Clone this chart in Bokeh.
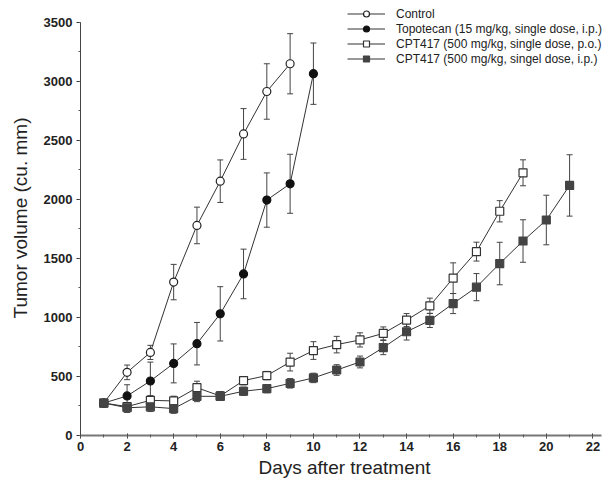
from bokeh.plotting import figure
from bokeh.models import (Range1d, FixedTicker, Whisker, ColumnDataSource, Legend,
                          LegendItem, TeeHead)
from bokeh.embed import file_html
from bokeh.resources import INLINE

# ---- data ----
control_days = [1, 2, 3, 4, 5, 6, 7, 8, 9]
control_vol = [275, 535, 704, 1300, 1780, 2155, 2555, 2915, 3150]
control_err = [0, 62, 60, 150, 155, 180, 215, 235, 255]

topo_days = [1, 2, 3, 4, 5, 6, 7, 8, 9, 10]
topo_vol = [275, 335, 462, 611, 778, 1031, 1369, 1995, 2133, 3066]
topo_err = [0, 95, 160, 165, 180, 230, 210, 230, 250, 260]

po_days = list(range(1, 20))
po_vol = [275, 245, 298, 293, 405, 335, 465, 508, 622, 720, 770, 810, 865, 978,
          1099, 1333, 1558, 1900, 2226]
po_err = [0, 30, 40, 40, 55, 35, 35, 35, 75, 75, 70, 60, 55, 55, 65, 130, 80, 90, 110]

ip_days = list(range(1, 22))
ip_vol = [275, 235, 243, 228, 332, 332, 375, 397, 442, 488, 555, 623, 745, 879,
          975, 1118, 1257, 1457, 1648, 1826, 2119]
ip_err = [0, 40, 40, 40, 45, 35, 35, 35, 40, 40, 45, 50, 60, 70, 60, 85, 115, 180,
          180, 210, 260]

labels = ["Control",
          "Topotecan (15 mg/kg, single dose, i.p.)",
          "CPT417 (500 mg/kg, single dose, p.o.)",
          "CPT417 (500 mg/kg, singel dose, i.p.)"]

x_ticks = [0, 2, 4, 6, 8, 10, 12, 14, 16, 18, 20, 22]
x_minor = list(range(0, 23))
y_ticks = [0, 500, 1000, 1500, 2000, 2500, 3000, 3500]
y_minor = [250 * i for i in range(15)]

FONT = "Liberation Sans"
DARK = "#333333"

# frame reaches the top and right edges of the canvas so the legend is not
# clipped; the axis lines themselves stop at 3500 and ~22.3 via bounds
p = figure(width=608, height=480, output_backend="svg", toolbar_location=None,
           x_range=Range1d(0, 22.67), y_range=Range1d(0, 3686),
           min_border_left=80, min_border_right=0, min_border_top=0,
           min_border_bottom=45)
p.outline_line_color = None
p.grid.grid_line_color = None
p.background_fill_color = "white"

series = [
    (control_days, control_vol, control_err, "circle", "white", "#222222"),
    (topo_days, topo_vol, topo_err, "circle", "#111111", "#111111"),
    (po_days, po_vol, po_err, "square", "white", "#333333"),
    (ip_days, ip_vol, ip_err, "square", "#444444", "#444444"),
]

items = []
for (d, v, e, marker, fill, outline), lab in zip(series, labels):
    src = ColumnDataSource(dict(
        x=[a for a, b in zip(d, e) if b > 0],
        upper=[c + b for c, b in zip(v, e) if b > 0],
        lower=[c - b for c, b in zip(v, e) if b > 0]))
    w = Whisker(base="x", upper="upper", lower="lower", source=src,
                dimension="height", line_color="#444444", line_width=1,
                level="underlay",
                upper_head=TeeHead(size=6, line_color="#444444", line_width=1),
                lower_head=TeeHead(size=6, line_color="#444444", line_width=1))
    p.add_layout(w)
    lr = p.line(d, v, line_color=DARK, line_width=1)
    sr = p.scatter(d, v, marker=marker, size=8, fill_color=fill,
                   line_color=outline, line_width=1.2)
    items.append(LegendItem(label=lab, renderers=[lr, sr]))

legend = Legend(items=items, location=(267, 369), padding=0, margin=0,
                spacing=-3, glyph_width=38, glyph_height=15, label_height=15,
                label_standoff=11, label_text_font=FONT,
                label_text_font_size="12px", label_text_color="#222222",
                background_fill_alpha=0, border_line_color=None)
p.add_layout(legend, "center")

# axes
p.xaxis.ticker = FixedTicker(ticks=x_ticks, minor_ticks=x_minor)
p.yaxis.ticker = FixedTicker(ticks=y_ticks, minor_ticks=y_minor)
p.yaxis.bounds = (0, 3500)
p.xaxis.bounds = (0, 22.35)
for ax in (p.xaxis, p.yaxis):
    ax.major_label_text_font = FONT
    ax.major_label_text_font_style = "bold"
    ax.major_label_text_font_size = "13px"
    ax.major_label_text_color = "#222222"
    ax.axis_label_text_font = FONT
    ax.axis_label_text_font_style = "normal"
    ax.axis_label_text_font_size = "19px"
    ax.axis_label_text_color = "#222222"
    ax.major_tick_line_color = DARK
    ax.minor_tick_line_color = "#555555"

p.xaxis.axis_label = "Days after treatment"
p.yaxis.axis_label = "Tumor volume (cu. mm)"

p.xaxis.axis_line_color = "#777777"
p.xaxis.axis_line_width = 2
p.xaxis.major_tick_in = 2
p.xaxis.major_tick_out = 3
p.xaxis.minor_tick_in = 1
p.xaxis.minor_tick_out = 2
p.xaxis.major_label_standoff = 3
p.xaxis.axis_label_standoff = 3

p.yaxis.axis_line_color = "#444444"
p.yaxis.axis_line_width = 1
p.yaxis.major_tick_in = 0
p.yaxis.major_tick_out = 4
p.yaxis.minor_tick_in = 0
p.yaxis.minor_tick_out = 2
p.yaxis.major_label_standoff = 4
p.yaxis.axis_label_standoff = 10

open("out.html", "w").write(file_html(p, INLINE))
